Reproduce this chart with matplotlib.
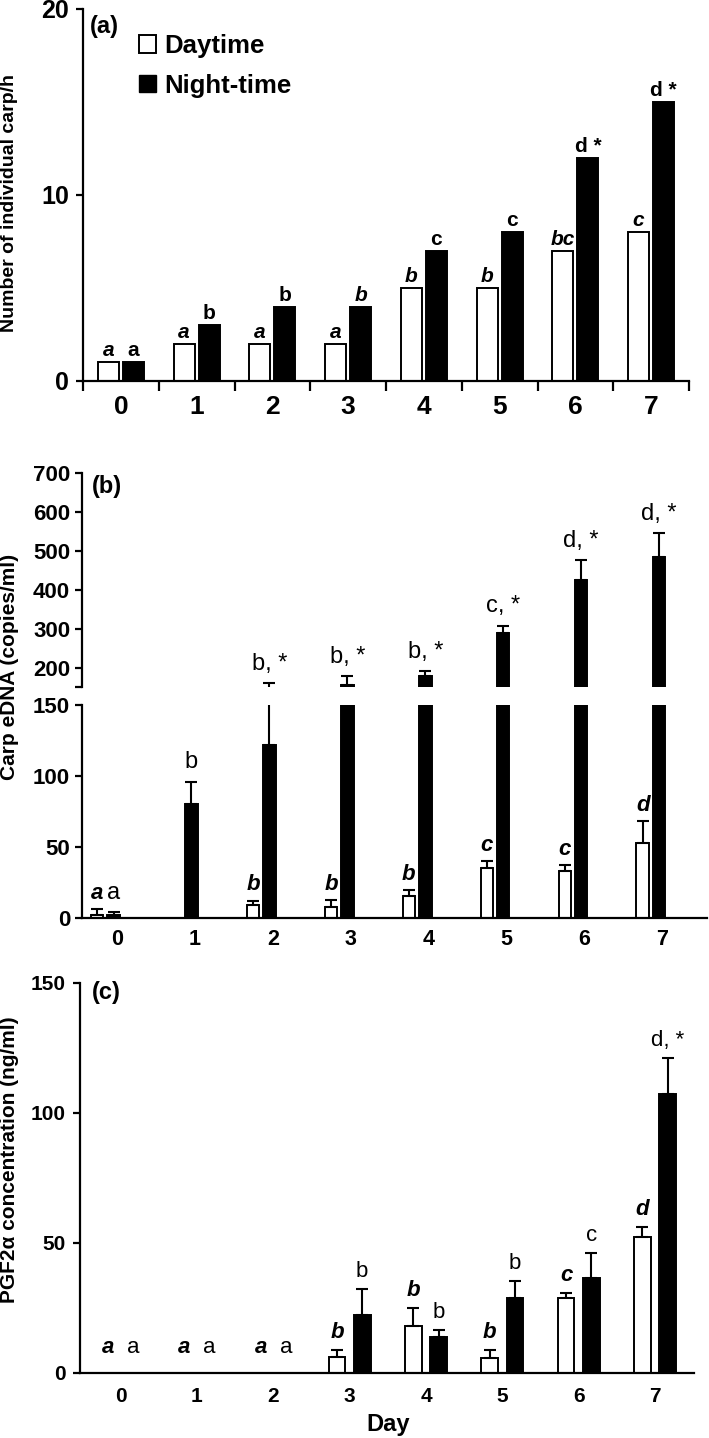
import matplotlib
matplotlib.use("Agg")
import matplotlib.pyplot as plt
import numpy as np
from matplotlib.patches import Patch

plt.rcParams["font.family"] = ["Liberation Sans", "DejaVu Sans"]
plt.rcParams["axes.linewidth"] = 1.6

days = np.arange(8)

# (a) number of individual carp per hour
carp_day = [1, 2, 2, 2, 5, 5, 7, 8]
carp_night = [1, 3, 4, 4, 7, 8, 12, 15]
carp_day_lab = ["a", "a", "a", "a", "b", "b", "bc", "c"]
carp_night_lab = ["a", "b", "b", "b", "c", "c", "d *", "d *"]
carp_night_style = ["normal", "normal", "normal", "italic", "normal", "normal", "normal", "normal"]

# (b) carp eDNA (copies/ml)
edna_day = [2, 0, 9, 8, 15.5, 35, 33, 53]
edna_day_err = [4, 0, 3, 4.5, 4, 5, 4, 15]
edna_night = [2, 80, 122, 155, 178, 288, 426, 485]
edna_night_err = [2, 16, 38, 23, 13, 20, 50, 60]
edna_day_lab = ["a", "", "b", "b", "b", "c", "c", "d"]
edna_night_lab = ["a", "b", "b, *", "b, *", "b, *", "c, *", "d, *", "d, *"]

# (c) PGF2a concentration (ng/ml)
pgf_day = [0, 0, 0, 6.2, 18, 5.8, 28.7, 52.3]
pgf_day_err = [0, 0, 0, 2.7, 7, 3, 2, 3.8]
pgf_night = [0, 0, 0, 22.3, 13.8, 28.8, 36.5, 107.3]
pgf_night_err = [0, 0, 0, 10, 2.7, 6.6, 9.5, 14]
pgf_day_lab = ["a", "a", "a", "b", "b", "b", "c", "d"]
pgf_night_lab = ["a", "a", "a", "b", "b", "b", "c", "d, *"]

W, H = 709, 1438
fig = plt.figure(figsize=(W / 100, H / 100), dpi=100)


def box(l, t, r, b):
    # pixel box -> figure fraction
    return [l / W, 1 - b / H, (r - l) / W, (b - t) / H]


def bold_ticks(ax):
    for lab in ax.get_xticklabels() + ax.get_yticklabels():
        lab.set_fontweight("bold")


def add_err(ax, xs, ys, errs):
    xs = np.asarray(xs, float)
    ys = np.asarray(ys, float)
    errs = np.asarray(errs, float)
    m = errs > 0
    ax.errorbar(xs[m], ys[m], yerr=[np.zeros(m.sum()), errs[m]], fmt="none",
                ecolor="black", elinewidth=1.5, capsize=4, capthick=1.5)


def add_labels(ax, xs, tops, labels, size, weight="normal", styles=None,
               offset=3, zero_offset=None):
    if styles is None:
        styles = ["normal"] * len(labels)
    for x, t, s, st in zip(xs, tops, labels, styles):
        if not s:
            continue
        dy = zero_offset if (zero_offset is not None and t == 0) else offset
        ax.annotate(s, (x, t), xytext=(0, dy), textcoords="offset points",
                    ha="center", va="bottom", fontsize=size,
                    fontweight=weight, fontstyle=st)


# ---------------- (a) ----------------
ax_a = fig.add_axes(box(83, 9, 689, 381))
w, off = 0.28, 0.165
ax_a.bar(days - off, carp_day, w, color="white", edgecolor="black", lw=1.4)
ax_a.bar(days + off, carp_night, w, color="black", edgecolor="black", lw=1.4)
ax_a.set_xlim(-0.5, 7.5)
ax_a.set_ylim(0, 20)
ax_a.set_yticks([0, 10, 20])
ax_a.set_xticks(days)
ax_a.set_xticks(np.arange(-0.5, 8, 1), minor=True)
ax_a.tick_params(axis="x", which="major", length=0, pad=10, labelsize=19)
ax_a.tick_params(axis="x", which="minor", length=7, width=1.6)
ax_a.tick_params(axis="y", length=5, width=1.6, pad=5, labelsize=18)
ax_a.spines[["top", "right"]].set_visible(False)
bold_ticks(ax_a)
add_labels(ax_a, days - off, carp_day, carp_day_lab, 15, "bold",
           ["italic"] * 8, offset=1.5)
add_labels(ax_a, days + off, carp_night, carp_night_lab, 15, "bold",
           carp_night_style, offset=1.5)
handles = [Patch(facecolor="white", edgecolor="black", lw=1.4, label="Daytime"),
           Patch(facecolor="black", edgecolor="black", label="Night-time")]
ax_a.legend(handles=handles, loc="upper left", bbox_to_anchor=(139 / W, 1 - 34 / H),
            bbox_transform=fig.transFigure, frameon=False,
            prop=dict(weight="bold", size=18.5), handlelength=0.65, handleheight=0.65,
            handletextpad=0.35, labelspacing=0.62, borderaxespad=0, borderpad=0)
fig.text(90 / W, 1 - 27 / H, "(a)", fontsize=17, fontweight="bold", va="center")
fig.text(10 / W, 1 - 203 / H, "Number of individual carp/h", rotation=90,
         fontsize=14, fontweight="bold", ha="center", va="center")

# ---------------- (b) broken axis ----------------
ax_bu = fig.add_axes(box(82, 473, 707, 687))
ax_bl = fig.add_axes(box(82, 705, 707, 918))
wb, offb = 0.16, 0.105
for ax in (ax_bu, ax_bl):
    ax.bar(days - offb, edna_day, wb, color="white", edgecolor="black", lw=1.4)
    ax.bar(days + offb, edna_night, wb, color="black", edgecolor="black", lw=1.4)
    add_err(ax, days - offb, edna_day, edna_day_err)
    add_err(ax, days + offb, edna_night, edna_night_err)
    ax.set_xlim(-0.3, 7.72)
    ax.spines[["top", "right"]].set_visible(False)
ax_bu.set_ylim(150, 700)
ax_bu.set_yticks([150, 200, 300, 400, 500, 600, 700])
ax_bu.set_yticklabels(["", "200", "300", "400", "500", "600", "700"])
ax_bu.spines["bottom"].set_visible(False)
ax_bu.set_xticks([])
ax_bl.set_ylim(0, 150)
ax_bl.set_yticks([0, 50, 100, 150])
ax_bl.set_xticks(days + 0.15)
ax_bl.set_xticklabels([str(d) for d in days])
ax_bl.tick_params(axis="x", length=0, pad=8, labelsize=15.5)
for ax in (ax_bu, ax_bl):
    ax.tick_params(axis="y", length=5, width=1.6, pad=3.5, labelsize=16)
    bold_ticks(ax)

add_labels(ax_bl, days - offb, np.add(edna_day, edna_day_err), edna_day_lab, 16,
           "bold", ["italic"] * 8, offset=4)
tops_n = np.add(edna_night, edna_night_err)
up = tops_n > 150
add_labels(ax_bu, (days + offb)[up], tops_n[up],
           [s for s, u in zip(edna_night_lab, up) if u], 17, offset=6)
add_labels(ax_bl, (days + offb)[~up], tops_n[~up],
           [s for s, u in zip(edna_night_lab, up) if not u], 17, offset=6)
fig.text(92 / W, 1 - 486 / H, "(b)", fontsize=17, fontweight="bold", va="center")
fig.text(10 / W, 1 - 667 / H, "Carp eDNA (copies/ml)", rotation=90,
         fontsize=15, fontweight="bold", ha="center", va="center")

# ---------------- (c) ----------------
ax_c = fig.add_axes(box(80, 983, 694, 1373))
wc, offc = 0.22, 0.165
ax_c.bar(days - offc, pgf_day, wc, color="white", edgecolor="black", lw=1.4)
ax_c.bar(days + offc, pgf_night, wc, color="black", edgecolor="black", lw=1.4)
add_err(ax_c, days - offc, pgf_day, pgf_day_err)
add_err(ax_c, days + offc, pgf_night, pgf_night_err)
ax_c.set_xlim(-0.53, 7.51)
ax_c.set_ylim(0, 150)
ax_c.set_yticks([0, 50, 100, 150])
ax_c.set_xticks(days)
ax_c.tick_params(axis="x", length=0, pad=10, labelsize=15)
ax_c.tick_params(axis="y", length=5, width=1.6, pad=5, labelsize=15)
ax_c.spines[["top", "right"]].set_visible(False)
bold_ticks(ax_c)
add_labels(ax_c, days - offc, np.add(pgf_day, pgf_day_err), pgf_day_lab, 16,
           "bold", ["italic"] * 8, offset=5, zero_offset=11)
add_labels(ax_c, days + offc, np.add(pgf_night, pgf_night_err), pgf_night_lab, 16,
           offset=5, zero_offset=11)
fig.text(92 / W, 1 - 992 / H, "(c)", fontsize=17, fontweight="bold", va="center")
fig.text(10 / W, 1 - 1160 / H, "PGF2α concentration (ng/ml)", rotation=90,
         fontsize=15, fontweight="bold", ha="center", va="center")
fig.text(388 / W, 1 - 1424 / H, "Day", fontsize=17, fontweight="bold",
         ha="center", va="center")

fig.savefig("out.png", dpi=100)
